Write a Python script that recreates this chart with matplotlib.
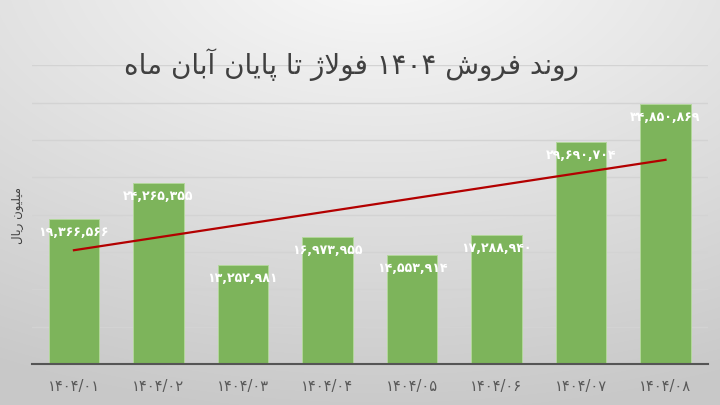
import re
import numpy as np
import matplotlib
matplotlib.use('Agg')
import matplotlib.pyplot as plt

# data
months = ['۱۴۰۴/۰۱', '۱۴۰۴/۰۲', '۱۴۰۴/۰۳', '۱۴۰۴/۰۴',
          '۱۴۰۴/۰۵', '۱۴۰۴/۰۶', '۱۴۰۴/۰۷', '۱۴۰۴/۰۸']
sales = [19366566, 24265355, 13252981, 16973955,
         14553914, 17288940, 29690704, 34850869]
title = 'روند فروش ۱۴۰۴ فولاژ تا پایان آبان ماه'
ylabel = 'میلیون ریال'

# simple arabic/persian shaping (matplotlib has no complex text layout)
FORMS = {
    'ا': ('\uFE8D', '\uFE8E'), 'آ': ('\uFE81', '\uFE82'),
    'د': ('\uFEA9', '\uFEAA'), 'ر': ('\uFEAD', '\uFEAE'),
    'ژ': ('\uFB8A', '\uFB8B'), 'و': ('\uFEED', '\uFEEE'),
    'ب': ('\uFE8F', '\uFE90', '\uFE91', '\uFE92'),
    'پ': ('\uFB56', '\uFB57', '\uFB58', '\uFB59'),
    'ت': ('\uFE95', '\uFE96', '\uFE97', '\uFE98'),
    'ش': ('\uFEB5', '\uFEB6', '\uFEB7', '\uFEB8'),
    'ف': ('\uFED1', '\uFED2', '\uFED3', '\uFED4'),
    'ل': ('\uFEDD', '\uFEDE', '\uFEDF', '\uFEE0'),
    'م': ('\uFEE1', '\uFEE2', '\uFEE3', '\uFEE4'),
    'ن': ('\uFEE5', '\uFEE6', '\uFEE7', '\uFEE8'),
    'ه': ('\uFEE9', '\uFEEA', '\uFEEB', '\uFEEC'),
    'ی': ('\uFBFC', '\uFBFD', '\uFBFE', '\uFBFF'),
}
LAMALEF = {'ا': ('\uFEFB', '\uFEFC'), 'آ': ('\uFEF5', '\uFEF6')}


def shape(s):
    out = []
    i = 0
    n = len(s)
    while i < n:
        c = s[i]
        if c not in FORMS:
            out.append(c)
            i += 1
            continue
        prev = s[i - 1] if i > 0 else ''
        jp = prev in FORMS and len(FORMS[prev]) == 4
        if c == 'ل' and i + 1 < n and s[i + 1] in LAMALEF:
            out.append(LAMALEF[s[i + 1]][1 if jp else 0])
            i += 2
            continue
        nxt = s[i + 1] if i + 1 < n else ''
        f = FORMS[c]
        jn = len(f) == 4 and nxt in FORMS
        if jp and jn:
            out.append(f[3])
        elif jp:
            out.append(f[1])
        elif jn:
            out.append(f[2])
        else:
            out.append(f[0])
        i += 1
    vis = ''.join(out)[::-1]
    # keep number runs left to right
    return re.sub(r'[۰-۹0-9][۰-۹0-9,/]*', lambda m: m.group(0)[::-1], vis)


def fa_num(v):
    return '{:,}'.format(v).translate(str.maketrans('0123456789', '۰۱۲۳۴۵۶۷۸۹'))


plt.rcParams['font.family'] = ['DejaVu Sans']

fig = plt.figure(figsize=(7.2, 4.06), dpi=100)

# background gradient
bg = fig.add_axes([0, 0, 1, 1], zorder=0)
yy, xx = np.mgrid[0:406, 0:720]
d = np.sqrt(((xx - 380) / 720.0) ** 2 + ((yy + 40) / 406.0) ** 2)
g = np.clip(250 - 44 * d, 200, 250) / 255.0
bg.imshow(np.dstack([g, g, g]), aspect='auto', extent=[0, 1, 0, 1])
bg.axis('off')

ax = fig.add_axes([0.044, 0.101, 0.939, 0.736], zorder=1)
ax.patch.set_alpha(0)

x = np.arange(len(sales))
ax.bar(x, sales, width=0.6, color='#7db45b', edgecolor='#b3d79b',
       linewidth=0.7, zorder=2)

for xi, v in zip(x, sales):
    ax.annotate(fa_num(v), (xi, v), xytext=(0, -9), textcoords='offset points',
                ha='center', va='center', color='white', fontsize=9,
                fontweight='bold', zorder=4)

# linear trend line
k, b0 = np.polyfit(x, sales, 1)
ax.plot(x, k * x + b0, color='#b30000', lw=1.6, zorder=3)

ax.set_xlim(-0.5, len(sales) - 0.5)
ax.set_ylim(0, 40000000)
ax.set_yticks(np.arange(5000000, 40000001, 5000000))
ax.yaxis.grid(True, color='#d3d3d3', lw=1)
ax.set_axisbelow(True)
ax.tick_params(axis='y', length=0, labelleft=False)
ax.tick_params(axis='x', length=0, pad=10, labelsize=10.5, labelcolor='#595959')
ax.set_xticks(x)
ax.set_xticklabels(months)
for s in ['top', 'right', 'left']:
    ax.spines[s].set_visible(False)
ax.spines['bottom'].set_color('#555555')
ax.spines['bottom'].set_linewidth(1.5)

fig.text(0.025, 0.47, shape(ylabel), rotation=90, ha='center', va='center',
         fontsize=8.5, color='#404040')
fig.text(0.488, 0.84, shape(title), ha='center', va='center',
         fontsize=20, color='#404040', zorder=5)

fig.savefig('out.png', dpi=100)
